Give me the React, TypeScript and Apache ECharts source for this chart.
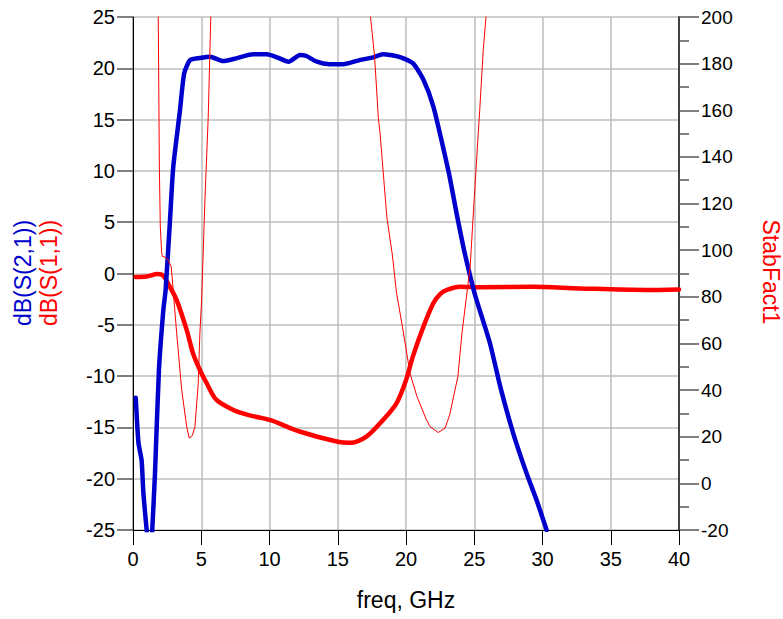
import React, { useEffect, useRef } from "react";
import * as echarts from "echarts";

// frequency (GHz) and dB(S(2,1))
const freqS21 = [0.2, 0.4, 0.63, 0.76, 1.0, 1.26, 1.41, 1.61, 1.9, 2.22, 2.39, 2.71, 2.95, 3.44, 3.75, 4.18, 4.9, 5.64, 6.6, 7.35, 8.8, 9.8, 10.5, 11.4, 12.23, 12.7, 13.46, 14.4, 15.4, 16.6, 17.6, 18.3, 18.83, 19.56, 20.5, 21.27, 22.0, 22.7, 23.2, 23.7, 24.3, 24.9, 25.17, 26.15, 26.9, 27.86, 28.84, 29.57, 30.3];
const s21 = [-12.1, -16.5, -18.2, -21.4, -25, -29, -25, -19.5, -9.4, -3.6, -1.6, 5.2, 10.4, 15.9, 19.5, 20.8, 21.0, 21.13, 20.7, 20.9, 21.36, 21.36, 21.1, 20.64, 21.3, 21.2, 20.64, 20.4, 20.4, 20.8, 21.07, 21.36, 21.3, 21.1, 20.5, 18.9, 16.3, 12.4, 9.4, 5.9, 2.0, -1.3, -2.6, -6.8, -11.0, -15.6, -19.5, -22.1, -25];

// frequency (GHz) and dB(S(1,1))
const freqS11 = [0.2, 1.0, 1.8, 2.2, 2.7, 3.2, 3.93, 4.4, 4.9, 5.4, 6.1, 7.35, 8.48, 10.08, 12.2, 15.0, 15.9, 17.1, 18.3, 19.3, 20.0, 20.5, 21.27, 22.0, 22.5, 23.0, 23.96, 25.4, 29.3, 32.7, 37.6, 40];
const s11 = [-0.35, -0.3, -0.05, -0.2, -1.3, -2.6, -5.5, -7.8, -9.4, -10.7, -12.3, -13.3, -13.8, -14.3, -15.4, -16.4, -16.5, -15.9, -14.3, -12.65, -10.4, -8.1, -5.2, -2.9, -2.0, -1.6, -1.3, -1.35, -1.3, -1.45, -1.6, -1.55];

// frequency (GHz) and StabFact1 (right axis)
const freqK = [1.78, 1.85, 1.93, 2.0, 2.1, 2.15, 2.35, 2.55, 2.8, 3.2, 3.57, 3.93, 4.12, 4.35, 4.54, 4.78, 4.9, 5.03, 5.27, 5.51, 5.7, 5.85, 17.2, 17.4, 17.7, 17.97, 18.1, 18.6, 19.0, 19.3, 19.8, 20.3, 20.8, 21.0, 21.3, 21.5, 21.75, 22.36, 22.86, 23.2, 23.8, 24.1, 24.4, 24.7, 25.05, 25.4, 25.66, 25.86, 26.05];
const stabFact = [240, 200, 136, 110, 99, 97.3, 97, 96, 93, 64.4, 40, 24.4, 19.4, 20.5, 24.4, 43, 64.4, 79, 121.6, 157, 200, 240, 240, 200, 183, 157, 150, 114, 98, 82, 65, 47, 37.3, 34.4, 30.1, 27.3, 24.4, 21.8, 23.7, 29.4, 45.8, 64.4, 78.7, 93, 127, 160, 186, 200, 240];

const zip = (xs: number[], ys: number[]) => xs.map((x, i) => [x, ys[i]]);

const FONT = "'Liberation Sans', Arial, sans-serif";

export default function App() {
  const ref = useRef<HTMLDivElement>(null);
  useEffect(() => {
    if (!ref.current) return;
    const chart = echarts.init(ref.current, undefined, { renderer: "svg" });
    chart.setOption({
      animation: false,
      backgroundColor: "#ffffff",
      textStyle: { fontFamily: FONT },
      grid: {
        left: 133,
        right: 104,
        top: 17,
        bottom: 89,
        show: true,
        borderColor: "#000000",
        borderWidth: 1,
        backgroundColor: "transparent",
      },
      xAxis: {
        type: "value",
        min: 0,
        max: 40,
        interval: 5,
        name: "freq, GHz",
        nameLocation: "middle",
        nameGap: 58,
        nameTextStyle: { fontSize: 23, color: "#000", fontFamily: FONT },
        axisLine: { show: true, onZero: false, lineStyle: { color: "#000", width: 1 } },
        axisTick: { show: true, length: 15, lineStyle: { color: "#000", width: 1 } },
        axisLabel: { fontSize: 20, color: "#000", margin: 19, fontFamily: FONT },
        splitLine: { show: true, lineStyle: { color: "#bdbdbd", width: 1.5 } },
      },
      yAxis: [
        {
          type: "value",
          min: -25,
          max: 25,
          interval: 5,
          position: "left",
          axisLine: { show: true, onZero: false, lineStyle: { color: "#000", width: 1 } },
          axisTick: { show: true, length: 16, lineStyle: { color: "#555", width: 1.5 } },
          axisLabel: { fontSize: 20, color: "#000", margin: 18, fontFamily: FONT },
          splitLine: { show: true, lineStyle: { color: "#cfcfcf", width: 2 } },
        },
        {
          type: "value",
          min: -20,
          max: 200,
          interval: 20,
          position: "right",
          axisLine: { show: true, onZero: false, lineStyle: { color: "#404040", width: 2 } },
          axisTick: { show: true, length: 20, lineStyle: { color: "#555", width: 1.5 } },
          minorTick: { show: true, splitNumber: 2, length: 10, lineStyle: { color: "#555", width: 1.5 } },
          axisLabel: { fontSize: 19, color: "#000", margin: 22, align: "left", fontFamily: FONT },
          splitLine: { show: false },
        },
      ],
      graphic: [
        {
          type: "text",
          x: 23,
          y: 273,
          rotation: Math.PI / 2,
          style: { text: "dB(S(2,1))", fill: "#0000cc", font: `23px ${FONT}`, align: "center", verticalAlign: "middle" },
        },
        {
          type: "text",
          x: 49,
          y: 273,
          rotation: Math.PI / 2,
          style: { text: "dB(S(1,1))", fill: "#ff0000", font: `23px ${FONT}`, align: "center", verticalAlign: "middle" },
        },
        {
          type: "text",
          x: 771,
          y: 272,
          rotation: -Math.PI / 2,
          style: { text: "StabFact1", fill: "#ff0000", font: `23px ${FONT}`, align: "center", verticalAlign: "middle" },
        },
      ],
      series: [
        {
          name: "dB(S(1,1))",
          type: "line",
          yAxisIndex: 0,
          data: zip(freqS11, s11),
          showSymbol: false,
          smooth: 0.3,
          clip: true,
          lineStyle: { color: "#ff0000", width: 4.5, join: "round", cap: "round" },
          itemStyle: { color: "#ff0000" },
        },
        {
          name: "dB(S(2,1))",
          type: "line",
          yAxisIndex: 0,
          data: zip(freqS21, s21),
          showSymbol: false,
          smooth: 0.2,
          clip: true,
          lineStyle: { color: "#0000cc", width: 4.5, join: "round", cap: "round" },
          itemStyle: { color: "#0000cc" },
        },
        {
          name: "StabFact1",
          type: "line",
          yAxisIndex: 1,
          data: zip(freqK, stabFact),
          showSymbol: false,
          smooth: false,
          clip: true,
          lineStyle: { color: "#ff0000", width: 1 },
          itemStyle: { color: "#ff0000" },
        },
      ],
    });
    return () => chart.dispose();
  }, []);
  return (
    <div
      ref={ref}
      style={{ position: "fixed", left: 0, top: 0, width: "783px", height: "619px", background: "#fff" }}
    />
  );
}
